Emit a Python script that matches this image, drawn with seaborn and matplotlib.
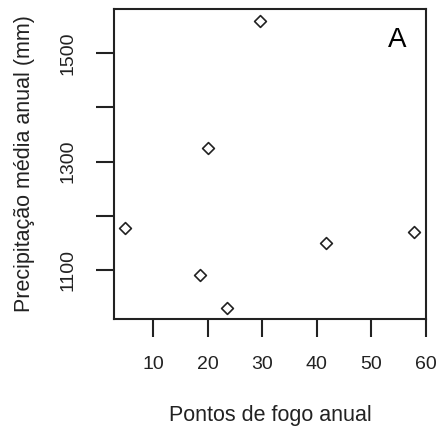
import matplotlib
matplotlib.use("Agg")
import matplotlib.pyplot as plt
import seaborn as sns
import pandas as pd

# Annual fire points vs. mean annual precipitation
fire_points = [4.9, 18.5, 23.5, 20.1, 29.6, 41.7, 57.9]
precip_mm = [1177, 1091, 1031, 1325, 1559, 1150, 1171]

x_ticks = [10, 20, 30, 40, 50, 60]
y_ticks = [1100, 1200, 1300, 1400, 1500]
y_tick_labels = ["1100", "", "1300", "", "1500"]

df = pd.DataFrame({"fogo": fire_points, "precip": precip_mm})

sns.set_style("ticks")
plt.rcParams["font.family"] = ["Liberation Sans", "DejaVu Sans"]

ink = "#222222"
fig = plt.figure(figsize=(4.37, 4.32), dpi=100)
ax = fig.add_axes([0.261, 0.2616, 0.714, 0.7176])

sns.scatterplot(data=df, x="fogo", y="precip", ax=ax, marker="D", s=36,
                facecolor="white", edgecolor=ink, linewidth=1.2, zorder=3)

ax.set_xlim(2.8, 60.1)
ax.set_ylim(1010, 1581)
ax.set_xticks(x_ticks)
ax.set_yticks(y_ticks)
ax.set_yticklabels(y_tick_labels, rotation=90, va="center")

for s in ax.spines.values():
    s.set_visible(True)
    s.set_color(ink)
    s.set_linewidth(1.5)

ax.tick_params(axis="both", direction="out", length=13, width=1.5,
               color=ink, labelcolor=ink, labelsize=14)
ax.tick_params(axis="x", pad=14)
ax.tick_params(axis="y", pad=14)

ax.set_xlabel("Pontos de fogo anual", fontsize=15.5, color=ink, labelpad=23)
ax.set_ylabel("Precipitação média anual (mm)", fontsize=15.5, color=ink,
              labelpad=17.5, rotation=90)

ax.text(0.907, 0.9, "A", transform=ax.transAxes, ha="center", va="center",
        fontsize=20, color="black")

fig.savefig("out.png", dpi=100, facecolor="white")
